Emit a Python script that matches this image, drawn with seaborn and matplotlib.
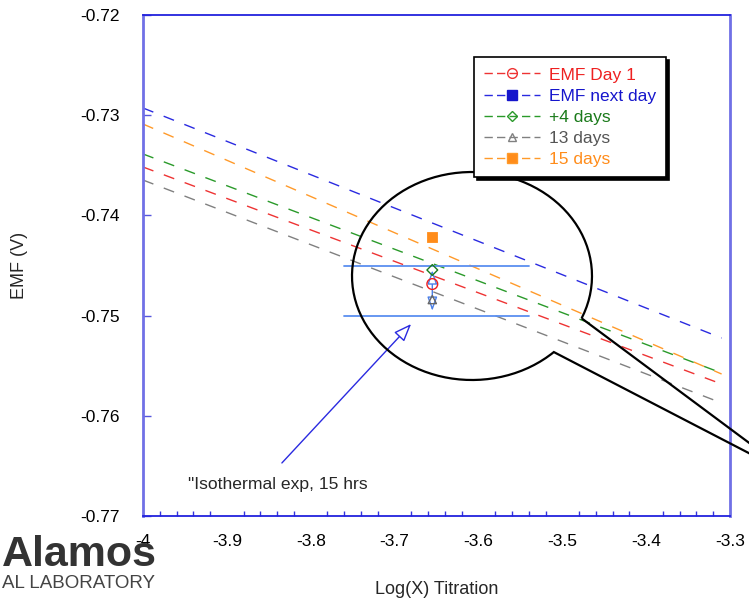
import numpy as np
import pandas as pd
import matplotlib
matplotlib.use("Agg")
import matplotlib.pyplot as plt
from matplotlib.lines import Line2D
from matplotlib.path import Path
from matplotlib.patches import PathPatch
from matplotlib.transforms import Affine2D
import seaborn as sns

# ---------------- data ----------------
series_names = ["EMF Day 1", "EMF next day", "+4 days", "13 days", "15 days"]
line_x = [-4.0, -3.31]
line_day1 = [-0.73517, -0.75683]
line_next = [-0.72928, -0.75224]
line_4d = [-0.73387, -0.75573]
line_13d = [-0.73647, -0.75872]
line_15d = [-0.73088, -0.75583]

point_x = -3.655
point_day1 = -0.74685
point_4d = -0.74545
point_13d = -0.7484
point_15d = -0.74213

band_levels = [-0.745, -0.750]
band_x = [-3.76, -3.54]
arrow_span = [-0.7452, -0.7498]

x_ticks = [-4, -3.9, -3.8, -3.7, -3.6, -3.5, -3.4, -3.3]
x_tick_labels = ["-4", "-3.9", "-3.8", "-3.7", "-3.6", "-3.5", "-3.4", "-3.3"]
y_ticks = [-0.77, -0.76, -0.75, -0.74, -0.73, -0.72]
y_tick_labels = ["-0.77", "-0.76", "-0.75", "-0.74", "-0.73", "-0.72"]

line_colors = ["#ee3333", "#2a2ae0", "#2a9a2a", "#808080", "#ff9a2a"]
text_colors = ["#ee2020", "#1515cc", "#1a7a1a", "#555555", "#ff8c1a"]

# ---------------- figure ----------------
sns.set_theme(style="white")
plt.rcParams["font.family"] = ["Liberation Sans", "DejaVu Sans"]

W, H = 749, 604
fig = plt.figure(figsize=(W / 100, H / 100), dpi=100)
ax_h = (516 - 15) / H
ax_w = (730 - 143) / W
ax = fig.add_axes([143 / W, 1 - 516 / H, ax_w, ax_h])
px = Affine2D().scale(1 / W, -1 / H).translate(0, 1) + fig.transFigure

dash = (0, (8, 8))
lines_df = pd.DataFrame({
    "x": line_x * 5,
    "y": line_day1 + line_next + line_4d + line_13d + line_15d,
    "s": sum([[n] * 2 for n in series_names], []),
})
for name, col in zip(series_names, line_colors):
    sub = lines_df[lines_df["s"] == name]
    sns.lineplot(data=sub, x="x", y="y", color=col, linestyle=dash, lw=1.0,
                 ax=ax, legend=False)

# reference band lines
for lvl in band_levels:
    sns.lineplot(x=band_x, y=[lvl, lvl], color="#5a8ff0", lw=1.3, ax=ax, legend=False)

# double arrow
ax.annotate("", xy=(point_x, arrow_span[1]), xytext=(point_x, arrow_span[0]),
            arrowprops=dict(arrowstyle="<|-|>,head_length=0.7,head_width=0.25",
                            fc="white", ec="#4a7fe8", lw=1.0))

# points
sns.scatterplot(x=[point_x], y=[point_15d], marker="s", s=55, color="#ff8c1a",
                edgecolor="#ff8c1a", ax=ax, zorder=5)
sns.scatterplot(x=[point_x], y=[point_day1], marker="o", s=60, facecolors="none",
                edgecolors="#ee2020", linewidths=1.0, ax=ax, zorder=5)
sns.scatterplot(x=[point_x], y=[point_4d], marker="D", s=30, facecolors="none",
                edgecolors="#1a7a1a", linewidths=1.0, ax=ax, zorder=5)
sns.scatterplot(x=[point_x], y=[point_13d], marker="^", s=35, facecolors="none",
                edgecolors="#666666", linewidths=1.0, ax=ax, zorder=5)

ax.set_xlim(-4, -3.3)
ax.set_ylim(-0.77, -0.72)
ax.set_xticks(x_ticks)
ax.set_xticklabels(x_tick_labels)
ax.set_xticks(np.arange(-4, -3.3 + 1e-9, 0.02), minor=True)
ax.set_yticks(y_ticks)
ax.set_yticklabels(y_tick_labels)
ax.tick_params(axis="x", which="major", direction="in", length=7, width=1,
               color="#3333dd", pad=13, labelsize=12.5, labelcolor="black")
ax.tick_params(axis="x", which="minor", direction="in", length=3.5, width=1,
               color="#3333dd", bottom=True)
ax.tick_params(axis="y", which="major", direction="in", length=6, width=1,
               color="#5555dd", pad=17, labelsize=12.5, labelcolor="black", left=True)
for side in ["top", "bottom"]:
    ax.spines[side].set_color("#2222dd")
    ax.spines[side].set_linewidth(1.3)
for side in ["left", "right"]:
    ax.spines[side].set_color("#7070e6")
    ax.spines[side].set_linewidth(2.0)
ax.set_xlabel("Log(X) Titration", fontsize=13)
ax.set_ylabel("EMF (V)", fontsize=13)
# label positions: x label top at ~581 px, y label right side at ~27 px
ax.xaxis.set_label_coords(0.5, -(581 - 516) / (516 - 15))
ax.yaxis.set_label_coords(-(143 - 28) / (730 - 143), 0.5)

# callout bubble
cx, cy, rx, ry = 472, 276, 120, 104
t = np.radians(np.linspace(-24, 313, 200))
arc = np.column_stack([cx + rx * np.cos(t), cy - ry * np.sin(t)])
verts = np.vstack([arc, [[795, 477]], [arc[0]]])
bubble = PathPatch(Path(verts), fill=False, ec="black", lw=1.6,
                   transform=px, clip_on=False, zorder=4)
ax.add_artist(bubble)

# annotation arrow + text
ax.annotate("", xy=(413, 322), xytext=(280, 465), xycoords=px, textcoords=px,
            arrowprops=dict(arrowstyle="-|>,head_length=0.9,head_width=0.35",
                            fc="white", ec="#2a2ae0", lw=1.0),
            annotation_clip=False)
fig.text(188, 485, '"Isothermal exp, 15 hrs', transform=px, fontsize=12.6,
         va="center", ha="left")

# legend
markers = ["o", "s", "D", "^", "s"]
mfcs = ["none", "#1515cc", "none", "none", "#ff8c1a"]
msz = [7, 7, 5, 6, 7]
handles = [Line2D([0], [0], color=c, linestyle=(0, (6, 3)), lw=1.0, marker=m,
                  markersize=s, mfc=f, mec=c)
           for c, m, f, s in zip(line_colors, markers, mfcs, msz)]
handles[1].set_mec("#1515cc")
leg = ax.legend(handles, series_names, loc="upper left",
                bbox_to_anchor=((474 - 143) / 587, 1 - (57 - 15) / 501),
                borderaxespad=0, frameon=True, fancybox=False, framealpha=1,
                edgecolor="black", fontsize=12.5, handlelength=3.2,
                labelspacing=0.34, borderpad=0.6, handletextpad=0.5,
                shadow={"color": "black", "alpha": 1.0})
leg.get_frame().set_linewidth(1.2)
leg.set_zorder(10)
for txt, c in zip(leg.get_texts(), text_colors):
    txt.set_color(c)

# logo text (partially cut at left)
fig.text(157, 566, "Alamos", transform=px, fontsize=31, fontweight="bold",
         color="#333333", ha="right", va="baseline")
fig.text(155, 588, "AL LABORATORY", transform=px, fontsize=13.5,
         color="#444444", ha="right", va="baseline")

fig.savefig("out.png", dpi=100)
